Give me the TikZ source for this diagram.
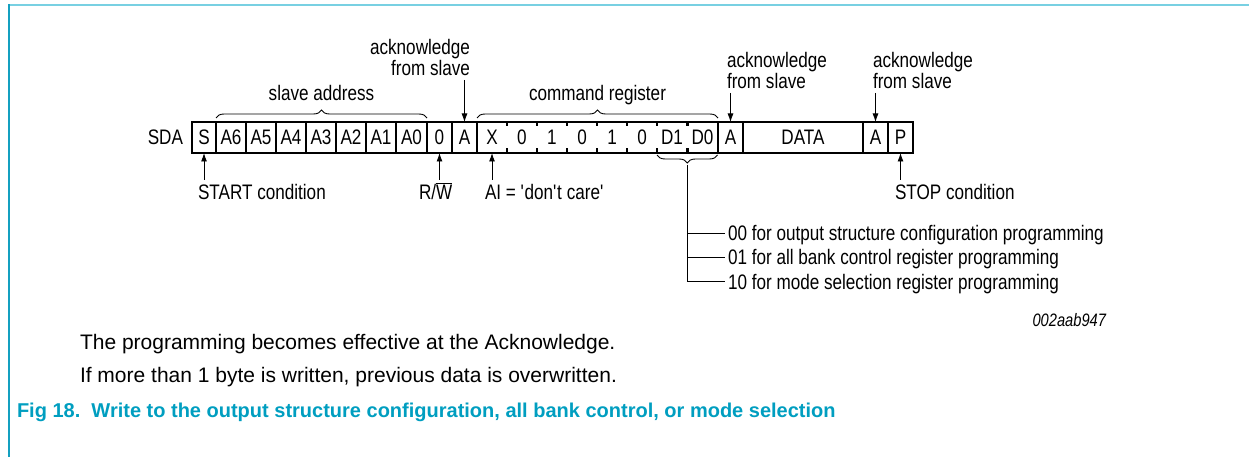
\documentclass[tikz,border=0pt]{standalone}
\usepackage{fontspec}
\setmainfont{Liberation Sans}[FakeStretch=0.815]
\newfontfamily\bodyfont{Liberation Sans}
\usetikzlibrary{decorations.pathreplacing,arrows.meta,calc}
\definecolor{capcol}{RGB}{0,158,192}
\definecolor{frametop}{RGB}{120,208,226}
\definecolor{frameleft}{RGB}{20,160,192}
\begin{document}
\begin{tikzpicture}[x=1pt,y=-1pt,
  every node/.style={inner sep=0pt,outer sep=0pt},
  font=\fontsize{21}{21}\selectfont,
  cell/.style={draw,line width=1.6pt,minimum height=31pt},
  cmdtext/.style={minimum height=31pt,minimum width=30pt},
  arr/.style={line width=0.9pt,-{Latex[length=8.5pt,width=6pt]}},
  thin/.style={line width=0.9pt},
  brc/.style={line width=0.9pt,decorate,decoration={brace,amplitude=8pt}},
  body/.style={font=\fontsize{21}{21}\bodyfont},
]
\useasboundingbox (0,0) rectangle (1249,457);
% frame
\draw[frametop,line width=2pt] (9,5.5) -- (1249,5.5);
\draw[frameleft,line width=1.5pt] (9,4.5) -- (9,457);

\node[anchor=base east] (sda) at (183,145) {SDA};
% cells
\node[cell,minimum width=24pt] (S)  at (204,137.5) {S};
\node[cell,minimum width=30pt] (A6) at (231,137.5) {A6};
\node[cell,minimum width=30pt] (A5) at (261,137.5) {A5};
\node[cell,minimum width=30pt] (A4) at (291,137.5) {A4};
\node[cell,minimum width=30pt] (A3) at (321,137.5) {A3};
\node[cell,minimum width=30pt] (A2) at (351,137.5) {A2};
\node[cell,minimum width=30pt] (A1) at (381,137.5) {A1};
\node[cell,minimum width=31pt] (A0) at (411.5,137.5) {A0};
\node[cell,minimum width=25pt] (RW) at (439.5,137.5) {0};
\node[cell,minimum width=25pt] (ackA) at (464.5,137.5) {A};
\node[cell,minimum width=241pt] (cmd) at (597.5,137.5) {};
\node[cmdtext] (X)  at (492,137.5) {X};
\node[cmdtext] (c6) at (522,137.5) {0};
\node[cmdtext] (c5) at (552,137.5) {1};
\node[cmdtext] (c4) at (582,137.5) {0};
\node[cmdtext] (c3) at (612,137.5) {1};
\node[cmdtext] (c2) at (642,137.5) {0};
\node[cmdtext] (D1) at (672,137.5) {D1};
\node[cmdtext] (D0) at (702.5,137.5) {D0};
\foreach \t in {c6,c5,c4,c3,c2,D1,D0}{
  \draw[line width=2.6pt] (\t.north west) -- ++(0,4.5);
  \draw[line width=2.6pt] (\t.south west) -- ++(0,-4.5);
}
\node[cell,minimum width=25pt] (ackB) at (730.5,137.5) {A};
\node[cell,minimum width=120pt] (data) at (803,137.5) {DATA};
\node[cell,minimum width=25pt] (ackC) at (875.5,137.5) {A};
\node[cell,minimum width=25pt] (P) at (900.5,137.5) {P};

% braces
\draw[brc] (216,118) -- (427,118);
\node[anchor=base] (slaveaddr) at (321.5,101) {slave address};
\draw[brc] (477,118) -- (718,118);
\node[anchor=base] (cmdreg) at (597.5,101) {command register};
\draw[brc] ([yshift=-2pt]D0.south east) -- ([yshift=-2pt]D1.south west);
\coordinate (brtip) at (687.5,165);

% acknowledge labels
\node[anchor=base east] (ack1a) at (470,55) {acknowledge};
\node[anchor=base east] (ack1b) at (470,76) {from slave};
\coordinate (ack1s) at (464.5,80);
\draw[arr] (ack1s) -- (ackA.north);
\node[anchor=base west] (ack2a) at (727,68) {acknowledge};
\node[anchor=base west] (ack2b) at (727,89) {from slave};
\coordinate (ack2s) at (730.5,93);
\draw[arr] (ack2s) -- (ackB.north);
\node[anchor=base west] (ack3a) at (873,68) {acknowledge};
\node[anchor=base west] (ack3b) at (873,89) {from slave};
\coordinate (ack3s) at (875.5,93);
\draw[arr] (ack3s) -- (ackC.north);

% bottom labels
\node[anchor=base west] (start) at (198,199) {START condition};
\coordinate (starts) at (204,180);
\draw[arr] (starts) -- (S.south);
\node[anchor=base west] (rwl) at (419,199) {R/$\overline{\mbox{W}}$};
\coordinate (rws) at (439.5,180);
\draw[arr] (rws) -- (RW.south);
\node[anchor=base west] (ail) at (485,199) {AI = \textquotesingle don\textquotesingle t care\textquotesingle};
\coordinate (ais) at (492,180);
\draw[arr] (ais) -- (X.south);
\node[anchor=base west] (stop) at (895,199) {STOP condition};
\coordinate (stops) at (900.5,180);
\draw[arr] (stops) -- (P.south);

% list
\node[anchor=base west] (item1) at (728,240.5) {00 for output structure configuration programming};
\node[anchor=base west] (item2) at (728,264.5) {01 for all bank control register programming};
\node[anchor=base west] (item3) at (728,289) {10 for mode selection register programming};
\draw[thin] (brtip) |- ([xshift=-3pt,yshift=7.5pt]item3.base west);
\coordinate (b1) at (687.5,233);
\coordinate (b2) at (687.5,257);
\draw[thin] (b1) -- ([xshift=-3pt,yshift=7.5pt]item1.base west);
\draw[thin] (b2) -- ([xshift=-3pt,yshift=7.5pt]item2.base west);

\node[anchor=base east,font=\fontsize{18}{18}\selectfont\itshape] (code) at (1106,326) {002aab947};

\node[anchor=base west,body] (note1) at (80,349) {The programming becomes effective at the Acknowledge.};
\node[anchor=base west,body] (note2) at (80,382) {If more than 1 byte is written, previous data is overwritten.};
\node[anchor=base west,text=capcol,font=\fontsize{20}{20}\bodyfont\bfseries] (cap) at (17,417) {Fig 18.\ \ Write to the output structure configuration, all bank control, or mode selection};
\end{tikzpicture}
\end{document}
